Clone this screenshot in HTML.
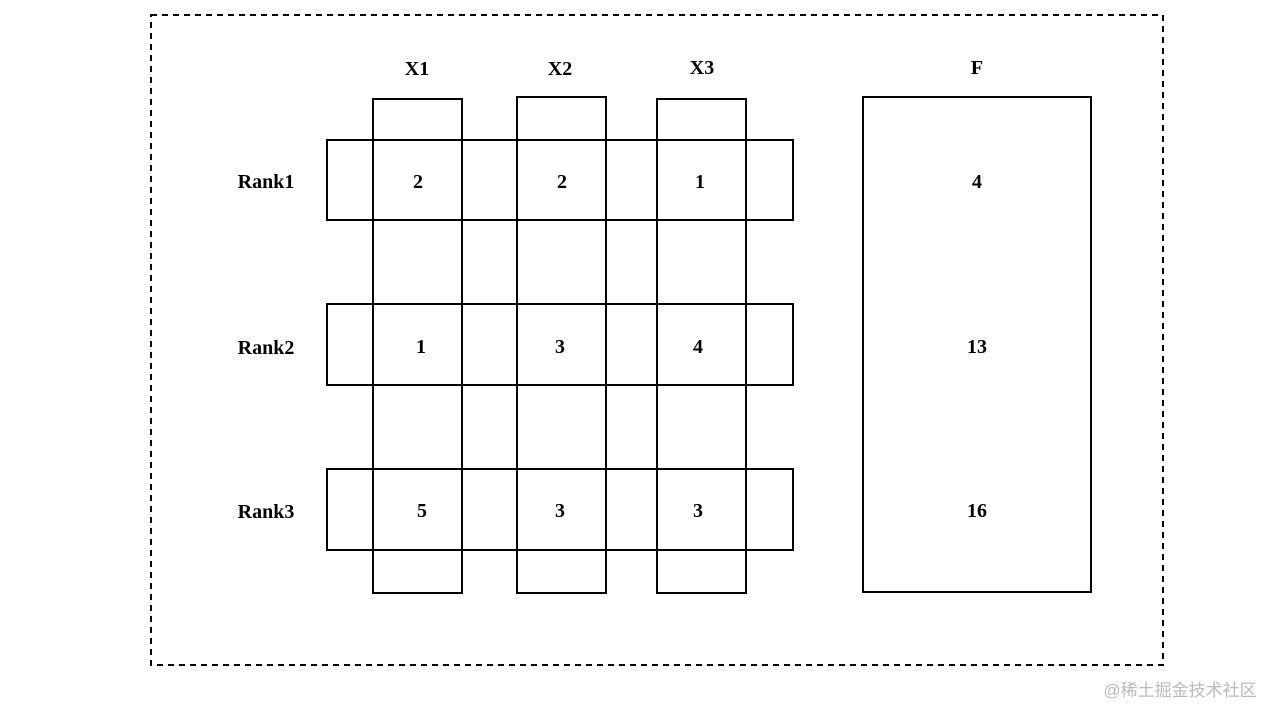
<!DOCTYPE html>
<html><head><meta charset="utf-8"><style>body{margin:0;background:#fff}</style></head><body>
<svg width="1280" height="720" xmlns="http://www.w3.org/2000/svg" style="display:block">
<rect x="151" y="15" width="1012" height="650" fill="none" stroke="#000" stroke-width="2" stroke-dasharray="6,5"/>
<g fill="none" stroke="#000" stroke-width="2">
<rect x="373" y="99" width="89" height="494"/>
<rect x="517" y="97" width="89" height="496"/>
<rect x="657" y="99" width="89" height="494"/>
<rect x="327" y="140" width="466" height="80"/>
<rect x="327" y="304" width="466" height="81"/>
<rect x="327" y="469" width="466" height="81"/>
<rect x="863" y="97" width="228" height="495"/>
</g>
<g font-family="Liberation Serif, serif" font-weight="bold" font-size="20" text-anchor="middle" fill="#000">
<text x="417" y="75">X1</text><text x="560" y="75">X2</text><text x="702" y="74">X3</text><text x="977" y="74">F</text>
<text x="266" y="188">Rank1</text><text x="266" y="354">Rank2</text><text x="266" y="518">Rank3</text>
<text x="418" y="188">2</text><text x="562" y="188">2</text><text x="700" y="188">1</text><text x="977" y="188">4</text>
<text x="421" y="353">1</text><text x="560" y="353">3</text><text x="698" y="353">4</text><text x="977" y="353">13</text>
<text x="422" y="517">5</text><text x="560" y="517">3</text><text x="698" y="517">3</text><text x="977" y="517">16</text>
</g>
<text x="1180" y="696" text-anchor="middle" font-family="Liberation Sans, Noto Sans CJK SC, sans-serif" font-size="17" fill="#bbb">@稀土掘金技术社区</text>
</svg>
</body></html>
